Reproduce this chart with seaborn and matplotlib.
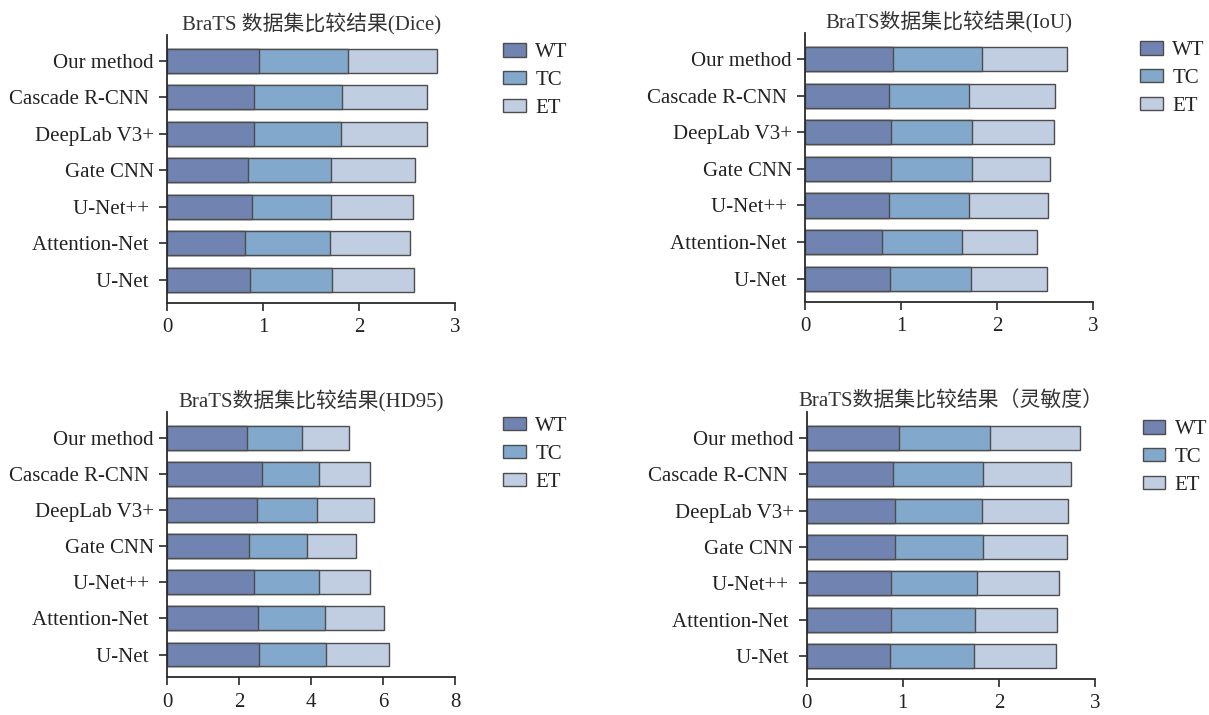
import numpy as np
import pandas as pd
import matplotlib
matplotlib.use("Agg")
import matplotlib.pyplot as plt
from matplotlib.patches import Patch
import seaborn as sns

# ---------------- data ----------------
methods = ["Our method", "Cascade R-CNN ", "DeepLab V3+", "Gate CNN",
           "U-Net++ ", "Attention-Net ", "U-Net "]
series = ["WT", "TC", "ET"]

dice_wt = [0.95, 0.90, 0.90, 0.84, 0.88, 0.81, 0.86]
dice_tc = [0.93, 0.92, 0.91, 0.86, 0.83, 0.88, 0.86]
dice_et = [0.93, 0.88, 0.90, 0.88, 0.85, 0.84, 0.85]

iou_wt = [0.92, 0.87, 0.89, 0.89, 0.87, 0.80, 0.88]
iou_tc = [0.92, 0.84, 0.85, 0.85, 0.84, 0.83, 0.85]
iou_et = [0.89, 0.89, 0.85, 0.81, 0.82, 0.78, 0.79]

hd_wt = [2.20, 2.62, 2.48, 2.26, 2.41, 2.51, 2.55]
hd_tc = [1.53, 1.58, 1.68, 1.61, 1.79, 1.88, 1.86]
hd_et = [1.32, 1.44, 1.58, 1.36, 1.43, 1.62, 1.75]

sen_wt = [0.96, 0.90, 0.92, 0.92, 0.88, 0.88, 0.87]
sen_tc = [0.95, 0.93, 0.90, 0.91, 0.89, 0.87, 0.87]
sen_et = [0.93, 0.92, 0.90, 0.88, 0.86, 0.85, 0.85]

titles = ["BraTS 数据集比较结果(Dice)", "BraTS数据集比较结果(IoU)",
          "BraTS数据集比较结果(HD95)", "BraTS数据集比较结果（灵敏度）"]
xmaxes = [3, 3, 8, 3]
xtick_steps = [1, 1, 2, 1]

# ---------------- style ----------------
sns.set_theme(style="ticks")
plt.rcParams["font.family"] = ["Liberation Serif", "Noto Sans CJK SC"]
plt.rcParams["axes.unicode_minus"] = False

colors = {"WT": "#7183b1", "TC": "#82a8cb", "ET": "#c1cde1"}
edge = "#4d4d4d"
text_col = "#222222"
FS = 15

W, H = 1209, 715
fig = plt.figure(figsize=(W / 100, H / 100), dpi=100)

# axes boxes in pixels: left, right(xmax), top, bottom
boxes = [
    (167.3, 455.3, 35.0, 302.7),
    (805.0, 1093.3, 33.0, 301.7),
    (167.3, 455.3, 412.0, 677.3),
    (806.7, 1095.0, 412.0, 679.0),
]
legend_anchor = [(503, 43), (1140, 41), (503, 417), (1142.5, 420)]

data_sets = [
    (dice_wt, dice_tc, dice_et),
    (iou_wt, iou_tc, iou_et),
    (hd_wt, hd_tc, hd_et),
    (sen_wt, sen_tc, sen_et),
]

for i, (wt, tc, et) in enumerate(data_sets):
    l, r, t, b = boxes[i]
    ax = fig.add_axes([l / W, 1 - b / H, (r - l) / W, (b - t) / H])
    df = pd.DataFrame({"method": methods, "WT": wt, "TC": tc, "ET": et})
    df["WT_TC"] = df["WT"] + df["TC"]
    df["total"] = df["WT_TC"] + df["ET"]
    for col, key in [("total", "ET"), ("WT_TC", "TC"), ("WT", "WT")]:
        sns.barplot(data=df, y="method", x=col, color=colors[key],
                    saturation=1, edgecolor=edge, linewidth=1.0,
                    width=0.66, errorbar=None, orient="h", ax=ax)
    ax.set_xlim(0, xmaxes[i])
    ax.set_xticks(np.arange(0, xmaxes[i] + 0.01, xtick_steps[i]))
    ax.set_ylim(6.63, -0.71)
    ax.set_xlabel("")
    ax.set_ylabel("")
    sns.despine(ax=ax)
    for sp in ["left", "bottom"]:
        ax.spines[sp].set_linewidth(1.3)
        ax.spines[sp].set_color("#2a2a2a")
    ax.tick_params(axis="both", which="major", length=6, width=1.2,
                   color="#2a2a2a", labelsize=FS, labelcolor=text_col)
    ax.tick_params(axis="y", pad=3.5)
    ax.tick_params(axis="x", pad=5)
    ax.set_title(titles[i], fontsize=FS, color="#333333", pad=3)

    handles = [Patch(facecolor=colors[s], edgecolor=edge, linewidth=1.0)
               for s in series]
    ax_x, ax_y = legend_anchor[i]
    fig.legend(handles, series, loc="upper left",
               bbox_to_anchor=(ax_x / W, 1 - ax_y / H),
               bbox_transform=fig.transFigure, frameon=False, fontsize=FS,
               handlelength=1.1, handleheight=0.62, handletextpad=0.45,
               labelspacing=0.42, borderpad=0, borderaxespad=0,
               labelcolor=text_col)

fig.savefig("out.png", dpi=100, facecolor="white")
